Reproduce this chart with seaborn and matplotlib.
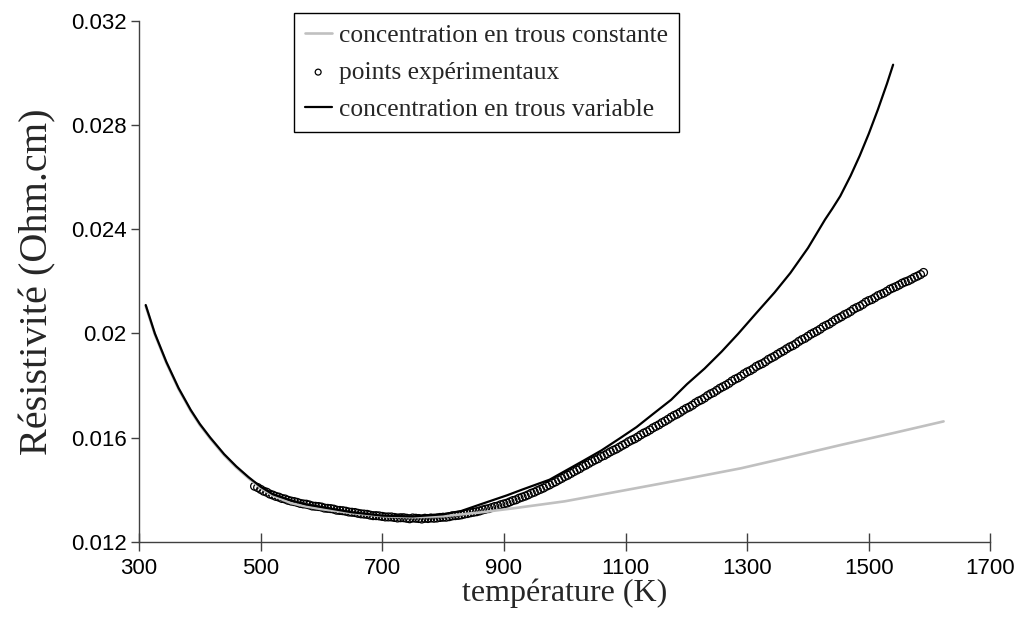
import numpy as np
import pandas as pd
import matplotlib
matplotlib.use("Agg")
import matplotlib.pyplot as plt
import seaborn as sns

# courbe "concentration en trous variable" (T en K, resistivite en Ohm.cm)
t_var = [311, 326, 345, 365, 385, 400, 417, 440, 460, 480, 500, 520, 550, 575,
         600, 650, 700, 750, 800, 830, 861, 905, 930, 975, 1030, 1060, 1090, 1118,
         1145, 1175, 1201, 1230, 1258, 1285, 1315, 1345, 1371, 1400, 1428, 1440,
         1453, 1470, 1485, 1500, 1515, 1530, 1540]
rho_var = [0.02109, 0.02000, 0.01890, 0.01790, 0.01706, 0.01652, 0.01600, 0.01536,
           0.01489, 0.01448, 0.01411, 0.01382, 0.01358, 0.01343, 0.01333, 0.01313,
           0.01300, 0.01297, 0.01305, 0.01318, 0.01343, 0.01378, 0.01400, 0.01438,
           0.01510, 0.01550, 0.01596, 0.01640, 0.01690, 0.01745, 0.01805, 0.01865,
           0.01930, 0.01998, 0.02078, 0.02157, 0.02232, 0.02328, 0.02437, 0.02479,
           0.02527, 0.02605, 0.02682, 0.02767, 0.02860, 0.02960, 0.03032]

# courbe "concentration en trous constante"
t_const = [311, 326, 345, 365, 385, 400, 417, 440, 460, 480, 500, 520, 550, 575,
           600, 650, 700, 750, 800, 860, 915, 1000, 1100, 1190, 1290, 1355, 1455,
           1540, 1623]
rho_const = [0.02105, 0.01996, 0.01886, 0.01786, 0.01702, 0.01648, 0.01596, 0.01532,
             0.01485, 0.01444, 0.01407, 0.01377, 0.01348, 0.01335, 0.01325, 0.01310,
             0.01298, 0.01294, 0.01298, 0.01312, 0.01328, 0.01355, 0.01398, 0.01437,
             0.01482, 0.01517, 0.01572, 0.01617, 0.01662]

# points experimentaux
t_exp = [490, 495, 500, 505, 510, 515, 520, 525, 530, 535,
         540, 545, 550, 555, 560, 565, 570, 575, 580, 585,
         590, 595, 600, 605, 610, 615, 620, 625, 630, 635,
         640, 645, 650, 655, 660, 665, 670, 675, 680, 685,
         690, 695, 700, 705, 710, 715, 720, 725, 730, 735,
         740, 745, 750, 755, 760, 765, 770, 775, 780, 785,
         790, 795, 800, 805, 810, 815, 820, 825, 830, 835,
         840, 845, 850, 855, 860, 865, 870, 875, 880, 885,
         890, 895, 900, 905, 910, 915, 920, 925, 930, 935,
         940, 945, 950, 955, 960, 965, 970, 975, 980, 985,
         990, 995, 1000, 1005, 1010, 1015, 1020, 1025, 1030, 1035,
         1040, 1045, 1050, 1055, 1060, 1065, 1070, 1075, 1080, 1085,
         1090, 1095, 1100, 1105, 1110, 1115, 1120, 1125, 1130, 1135,
         1140, 1145, 1150, 1155, 1160, 1165, 1170, 1175, 1180, 1185,
         1190, 1195, 1200, 1205, 1210, 1215, 1220, 1225, 1230, 1235,
         1240, 1245, 1250, 1255, 1260, 1265, 1270, 1275, 1280, 1285,
         1290, 1295, 1300, 1305, 1310, 1315, 1320, 1325, 1330, 1335,
         1340, 1345, 1350, 1355, 1360, 1365, 1370, 1375, 1380, 1385,
         1390, 1395, 1400, 1405, 1410, 1415, 1420, 1425, 1430, 1435,
         1440, 1445, 1450, 1455, 1460, 1465, 1470, 1475, 1480, 1485,
         1490, 1495, 1500, 1505, 1510, 1515, 1520, 1525, 1530, 1535,
         1540, 1545, 1550, 1555, 1560, 1565, 1570, 1575, 1580, 1585,
         1590]
rho_exp = [0.01413, 0.01408, 0.01401, 0.01394, 0.01390, 0.01383, 0.01379, 0.01374, 0.01371, 0.01366,
           0.01364, 0.01359, 0.01356, 0.01354, 0.01351, 0.01347, 0.01345, 0.01344, 0.01341, 0.01337,
           0.01336, 0.01335, 0.01333, 0.01329, 0.01328, 0.01327, 0.01325, 0.01321, 0.01320, 0.01319,
           0.01317, 0.01314, 0.01313, 0.01312, 0.01309, 0.01307, 0.01306, 0.01305, 0.01302, 0.01300,
           0.01300, 0.01299, 0.01297, 0.01295, 0.01295, 0.01295, 0.01293, 0.01291, 0.01292, 0.01292,
           0.01290, 0.01288, 0.01291, 0.01290, 0.01289, 0.01287, 0.01290, 0.01289, 0.01291, 0.01290,
           0.01291, 0.01293, 0.01294, 0.01294, 0.01296, 0.01299, 0.01300, 0.01301, 0.01303, 0.01306,
           0.01308, 0.01311, 0.01313, 0.01315, 0.01318, 0.01322, 0.01325, 0.01327, 0.01331, 0.01335,
           0.01337, 0.01342, 0.01345, 0.01348, 0.01353, 0.01358, 0.01361, 0.01367, 0.01371, 0.01375,
           0.01380, 0.01386, 0.01390, 0.01396, 0.01401, 0.01406, 0.01413, 0.01418, 0.01425, 0.01430,
           0.01437, 0.01443, 0.01450, 0.01455, 0.01462, 0.01469, 0.01475, 0.01481, 0.01489, 0.01494,
           0.01501, 0.01508, 0.01514, 0.01519, 0.01527, 0.01531, 0.01538, 0.01545, 0.01551, 0.01556,
           0.01563, 0.01570, 0.01576, 0.01584, 0.01590, 0.01595, 0.01602, 0.01610, 0.01617, 0.01622,
           0.01629, 0.01637, 0.01643, 0.01649, 0.01657, 0.01663, 0.01670, 0.01678, 0.01685, 0.01690,
           0.01697, 0.01705, 0.01712, 0.01717, 0.01724, 0.01733, 0.01740, 0.01745, 0.01752, 0.01761,
           0.01768, 0.01773, 0.01781, 0.01789, 0.01795, 0.01801, 0.01808, 0.01817, 0.01824, 0.01829,
           0.01836, 0.01845, 0.01852, 0.01857, 0.01864, 0.01873, 0.01879, 0.01884, 0.01891, 0.01900,
           0.01906, 0.01912, 0.01920, 0.01927, 0.01933, 0.01941, 0.01948, 0.01953, 0.01960, 0.01969,
           0.01976, 0.01981, 0.01989, 0.01997, 0.02003, 0.02009, 0.02016, 0.02025, 0.02031, 0.02036,
           0.02044, 0.02052, 0.02058, 0.02064, 0.02072, 0.02077, 0.02084, 0.02093, 0.02099, 0.02104,
           0.02111, 0.02120, 0.02126, 0.02130, 0.02137, 0.02145, 0.02150, 0.02155, 0.02162, 0.02170,
           0.02175, 0.02180, 0.02186, 0.02193, 0.02198, 0.02202, 0.02208, 0.02215, 0.02220, 0.02226,
           0.02234]

x_ticks = [300, 500, 700, 900, 1100, 1300, 1500, 1700]
y_ticks = [0.012, 0.016, 0.02, 0.024, 0.028, 0.032]
y_ticklabels = ["0.012", "0.016", "0.02", "0.024", "0.028", "0.032"]

df_const = pd.DataFrame({"T": t_const, "rho": rho_const})
df_var = pd.DataFrame({"T": t_var, "rho": rho_var})
df_exp = pd.DataFrame({"T": t_exp, "rho": rho_exp})

sns.set_theme(style="white")
axis_col = "#404040"

fig, ax = plt.subplots(figsize=(10.2, 6.26), dpi=100)
fig.subplots_adjust(left=0.1363, right=0.971, top=0.9665, bottom=0.1347)

sns.lineplot(data=df_const, x="T", y="rho", ax=ax, color="#c0c0c0", linewidth=1.9,
             label="concentration en trous constante")
sns.scatterplot(data=df_exp, x="T", y="rho", ax=ax, marker="o", s=32,
                facecolor="none", edgecolor="black", linewidth=0.9,
                label="points expérimentaux")
sns.lineplot(data=df_var, x="T", y="rho", ax=ax, color="black", linewidth=1.6,
             label="concentration en trous variable")

ax.set_xlim(300, 1700)
ax.set_ylim(0.012, 0.032)
ax.set_xticks(x_ticks)
ax.set_xticklabels([str(v) for v in x_ticks], family="Liberation Sans", fontsize=16)
ax.set_yticks(y_ticks)
ax.set_yticklabels(y_ticklabels, family="Liberation Sans", fontsize=16)

ax.set_xlabel("température (K)", family="Liberation Serif", fontsize=23, labelpad=0)
ax.set_ylabel("Résistivité (Ohm.cm)", family="Liberation Serif", fontsize=29, labelpad=10)

sns.despine(ax=ax)
for side in ["left", "bottom"]:
    ax.spines[side].set_color(axis_col)
    ax.spines[side].set_linewidth(1.0)
ax.tick_params(axis="y", direction="out", length=6, width=1, color=axis_col,
               labelcolor="black", pad=3, left=True)
ax.tick_params(axis="x", direction="inout", length=13, width=1, color=axis_col,
               labelcolor="black", pad=5, bottom=True)

leg = ax.legend(loc="upper left", bbox_to_anchor=(294 / 1020, 1 - 13 / 626),
                bbox_transform=fig.transFigure, borderaxespad=0,
                prop={"family": "Liberation Serif", "size": 18.4},
                frameon=True, fancybox=False, framealpha=1, edgecolor="black",
                handlelength=1.05, handletextpad=0.3, labelspacing=0.56,
                borderpad=0.42, markerscale=0.75)
leg.get_frame().set_linewidth(1.0)

plt.savefig("out.png", dpi=100)
